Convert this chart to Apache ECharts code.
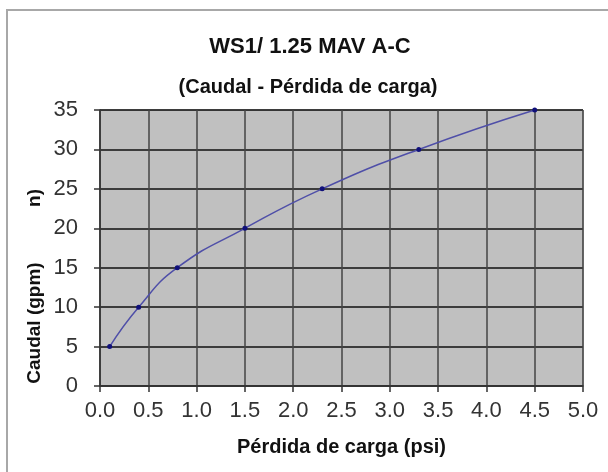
<!DOCTYPE html>
<html>
<head>
<meta charset="utf-8">
<script src="https://cdn.jsdelivr.net/npm/echarts@6/dist/echarts.min.js"></script>
<style>
    html, body { margin: 0; padding: 0; background: #fff; }
    #chart { width: 608px; height: 472px; }
</style>
</head>
<body>
<div id="chart"></div>
<script>
// perdida de carga (psi) vs caudal (gpm)
var perdida = [0.1, 0.4, 0.8, 1.5, 2.3, 3.3, 4.5];
var caudal = [5, 10, 15, 20, 25, 30, 35];
var xTicks = ['0.0', '0.5', '1.0', '1.5', '2.0', '2.5', '3.0', '3.5', '4.0', '4.5', '5.0'];
var yTicks = ['0', '5', '10', '15', '20', '25', '30', '35'];

var fontFam = '"Liberation Sans", Arial, sans-serif';

var myChart = echarts.init(document.getElementById('chart'));

var points = [];
for (var i = 0; i < perdida.length; i++) {
    points.push([perdida[i], caudal[i]]);
}

option = {
    backgroundColor: '#fff',
    animation: false,
    title: [
        {
            text: 'WS1/ 1.25 MAV A-C',
            left: 305, top: 31, textAlign: 'center',
            textStyle: {fontFamily: fontFam, fontSize: 22, fontWeight: 'bold', color: '#111'}
        },
        {
            text: '(Caudal - Pérdida de carga)',
            left: 303, top: 72, textAlign: 'center',
            textStyle: {fontFamily: fontFam, fontSize: 20, fontWeight: 'bold', color: '#111'}
        }
    ],
    graphic: [
        {
            type: 'rect', z: -10,
            shape: {x: 7, y: 10, width: 620, height: 480},
            style: {fill: 'none', stroke: '#a8a8a8', lineWidth: 2}
        },
        {
            type: 'text', x: 35, y: 323, rotation: Math.PI / 2,
            style: {text: 'Caudal (gpm)', font: 'bold 19px ' + fontFam, fill: '#111',
                align: 'center', verticalAlign: 'middle'}
        },
        {
            type: 'text', x: 35, y: 198, rotation: Math.PI / 2,
            style: {text: 'n)', font: 'bold 19px ' + fontFam, fill: '#111',
                align: 'center', verticalAlign: 'middle'}
        }
    ],
    grid: {
        left: 100, right: 25, top: 110, bottom: 86,
        show: true, backgroundColor: '#c0c0c0', borderColor: '#888', borderWidth: 1
    },
    xAxis: {
        type: 'value', min: 0, max: 5, interval: 0.5,
        name: 'Pérdida de carga (psi)', nameLocation: 'middle', nameGap: 51,
        nameTextStyle: {fontFamily: fontFam, fontSize: 20, fontWeight: 'bold', color: '#111'},
        axisLine: {lineStyle: {color: '#333', width: 1.5}},
        axisTick: {show: true, length: 6, lineStyle: {color: '#333', width: 1.5}},
        axisLabel: {
            fontFamily: fontFam, fontSize: 22, color: '#333', margin: 14,
            formatter: function (v) { return xTicks[Math.round(v / 0.5)]; }
        },
        splitLine: {show: true, lineStyle: {color: '#444', width: 1.5}}
    },
    yAxis: {
        type: 'value', min: 0, max: 35, interval: 5,
        axisLine: {show: true, lineStyle: {color: '#333', width: 1.5}},
        axisTick: {show: true, length: 6, lineStyle: {color: '#333', width: 1.5}},
        axisLabel: {
            fontFamily: fontFam, fontSize: 22, color: '#333', margin: 22,
            formatter: function (v) { return yTicks[Math.round(v / 5)]; }
        },
        splitLine: {show: true, lineStyle: {color: '#111', width: 1.5}}
    },
    series: [
        {
            type: 'line',
            data: points,
            smooth: true,
            symbol: 'circle',
            symbolSize: 5,
            lineStyle: {color: '#4f4fa8', width: 1.5},
            itemStyle: {color: '#10107a'}
        }
    ]
};
myChart.setOption(option);
</script>
</body>
</html>
